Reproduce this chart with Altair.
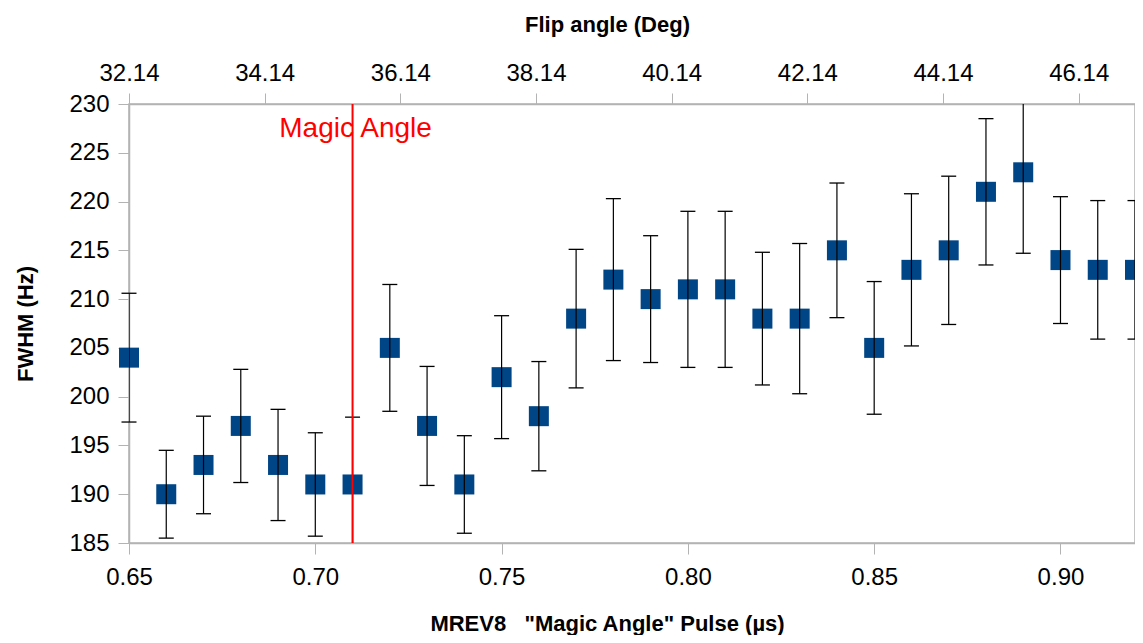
import altair as alt
import pandas as pd

# ---- data ----
pulse_us = [0.65, 0.66, 0.67, 0.68, 0.69, 0.70, 0.71, 0.72, 0.73, 0.74,
            0.75, 0.76, 0.77, 0.78, 0.79, 0.80, 0.81, 0.82, 0.83, 0.84,
            0.85, 0.86, 0.87, 0.88, 0.89, 0.90, 0.91, 0.92]
fwhm_hz = [204, 190, 193, 197, 193, 191, 191, 205, 197, 191,
           202, 198, 208, 212, 210, 211, 211, 208, 208, 215,
           205, 213, 215, 221, 223, 214, 213, 213]
fwhm_err = [6.6, 4.5, 5.0, 5.8, 5.7, 5.3, 6.9, 6.5, 6.1, 5.0,
            6.3, 5.6, 7.1, 8.3, 6.5, 8.0, 8.0, 6.8, 7.7, 6.9,
            6.8, 7.8, 7.6, 7.5, 8.3, 6.5, 7.1, 7.1]

x_ticks = [0.65, 0.70, 0.75, 0.80, 0.85, 0.90]
y_ticks = [185, 190, 195, 200, 205, 210, 215, 220, 225, 230]
flip_ticks = [32.14, 34.14, 36.14, 38.14, 40.14, 42.14, 44.14, 46.14]
flip_domain = [32.14, 46.97]
x_domain = [0.65, 0.92]
y_domain = [185, 230]

magic_pulse = [0.71]
magic_label_y = [226.6]
magic_label = ["Magic Angle"]

df = pd.DataFrame({"pulse": pulse_us, "fwhm": fwhm_hz, "err": fwhm_err})
df["lo"] = df["fwhm"] - df["err"]
df["hi"] = df["fwhm"] + df["err"]

magic_df = pd.DataFrame({"pulse": magic_pulse, "fwhm": magic_label_y, "label": magic_label})
flip_df = pd.DataFrame({"angle": flip_ticks})

FONT = "Liberation Sans"

xscale = alt.Scale(domain=x_domain, nice=False, zero=False)
yscale = alt.Scale(domain=y_domain, nice=False, zero=False)

x_enc = alt.X(
    "pulse:Q", scale=xscale,
    axis=alt.Axis(values=x_ticks, format=".2f", orient="bottom",
                  title='MREV8\u00a0\u00a0\u00a0"Magic Angle" Pulse (µs)',
                  labelPadding=11, labelFlush=False, titleX=478, titleY=87,
                  titleAlign="center", titleBaseline="alphabetic"))
y_axis = alt.Axis(values=y_ticks, format="d", title="FWHM (Hz)",
                  labelPadding=9, labelFlush=False, titleX=-97, titleY=219.5, titleAngle=-90,
                  titleAlign="center", titleBaseline="alphabetic")

base = alt.Chart(df)

squares = base.mark_square(size=400, color="#004586", opacity=1, filled=True).encode(
    x=x_enc,
    y=alt.Y("fwhm:Q", scale=yscale, axis=y_axis),
)
bars = base.mark_rule(color="black", strokeWidth=1.2, clip=True).encode(
    x=x_enc,
    y=alt.Y("lo:Q", scale=yscale, axis=y_axis),
    y2="hi:Q",
)
caps_lo = base.transform_filter(f"datum.lo >= {y_domain[0]}").mark_tick(
    orient="horizontal", size=15, thickness=1.3, color="black", opacity=1
).encode(x=x_enc, y=alt.Y("lo:Q", scale=yscale, axis=y_axis))
caps_hi = base.transform_filter(f"datum.hi <= {y_domain[1]}").mark_tick(
    orient="horizontal", size=15, thickness=1.3, color="black", opacity=1
).encode(x=x_enc, y=alt.Y("hi:Q", scale=yscale, axis=y_axis))

magic_line = alt.Chart(magic_df).mark_rule(color="#ff0000", strokeWidth=2).encode(x=x_enc)
magic_text = alt.Chart(magic_df).mark_text(
    color="#ff0000", fontSize=28, font=FONT, align="center", baseline="alphabetic", dx=3
).encode(x=x_enc, y=alt.Y("fwhm:Q", scale=yscale, axis=y_axis), text="label:N")

main = alt.layer(squares, bars, caps_lo, caps_hi, magic_line, magic_text)

top = alt.Chart(flip_df).mark_point(opacity=0).encode(
    x=alt.X("angle:Q", scale=alt.Scale(domain=flip_domain, nice=False, zero=False),
            axis=alt.Axis(values=flip_ticks, format=".2f", orient="top",
                          title="Flip angle (Deg)", labelPadding=8, labelFlush=False,
                          titleX=478, titleY=-73, titleAlign="center",
                          titleBaseline="alphabetic"))
)

chart = alt.layer(main, top).resolve_scale(x="independent").properties(
    width=1006, height=439,
    background="white",
    autosize=alt.AutoSizeParams(type="none"),
    padding={"left": 121, "top": 96, "right": 0, "bottom": 92},
).configure_axis(
    grid=False,
    domainColor="#b3b3b3", domainWidth=1.5,
    tickColor="#b3b3b3", tickSize=11, tickWidth=1,
    labelFont=FONT, labelFontSize=24, labelColor="black",
    titleFont=FONT, titleFontSize=22, titleFontWeight="bold", titleColor="black",
).configure_view(
    stroke="#b3b3b3", strokeWidth=1.5
)

chart.save("out.html", embed_options={"renderer": "svg", "actions": False})
